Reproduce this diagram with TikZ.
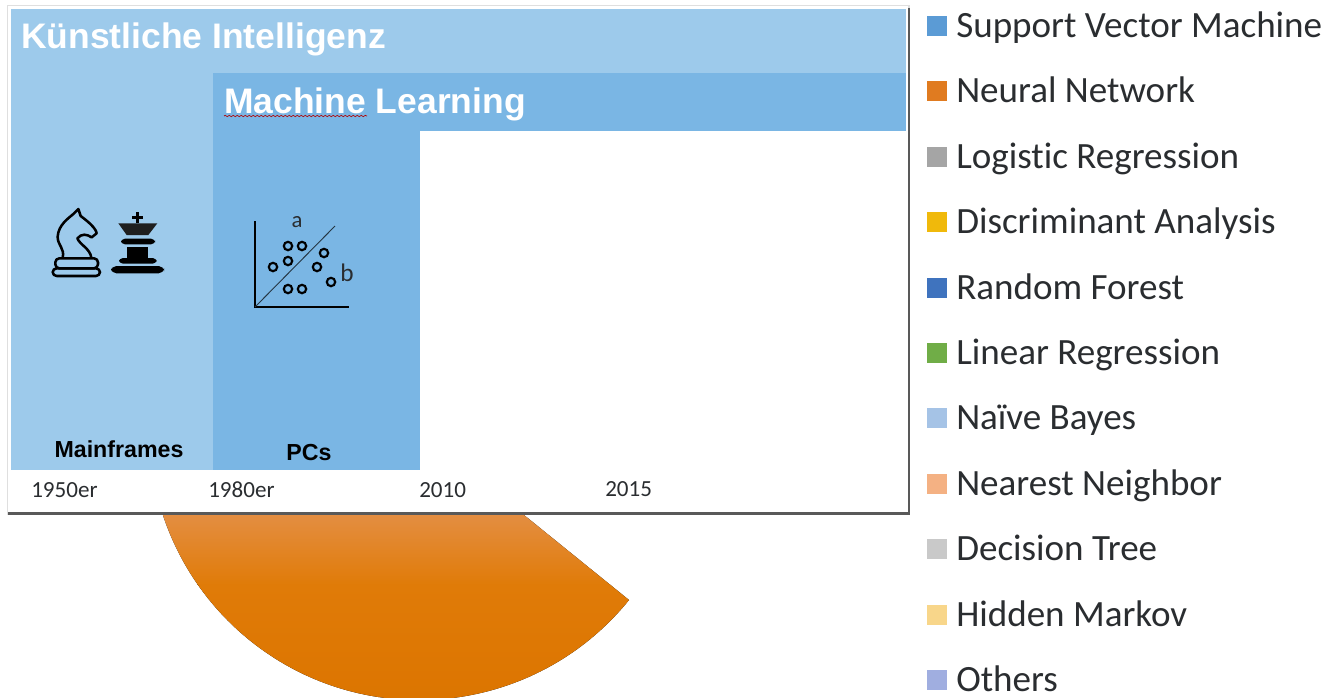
\documentclass[tikz,border=0pt]{standalone}
\usepackage{fontspec}
\setmainfont{Liberation Sans}
\newfontfamily\calfont[Ligatures=NoCommon]{Carlito}
\usetikzlibrary{decorations.pathmorphing}
\definecolor{lightblue}{HTML}{9DCAEB}
\definecolor{midblue}{HTML}{7AB6E4}
\definecolor{legendtext}{HTML}{2A2D30}
\definecolor{pietop}{HTML}{E48F45}
\definecolor{piemid}{HTML}{E07B08}
\definecolor{piebottom}{HTML}{DC7500}
\tikzset{
  x=0.75pt,y=-0.75pt,
  headline/.style={font=\bfseries\fontsize{26.6}{26}\selectfont,text=white,anchor=base west,inner sep=0pt},
  era/.style={font=\bfseries\fontsize{17.4}{17}\selectfont,text=black,anchor=base,inner sep=0pt},
  yearlabel/.style={font=\calfont\fontsize{17.3}{17}\selectfont,text=legendtext,anchor=base west,inner sep=0pt},
  legendlabel/.style={font=\calfont\fontsize{27.8}{28}\selectfont,text=legendtext,anchor=base west,inner sep=0pt},
  legendkey/.style={minimum size=14.5pt,inner sep=0pt,anchor=center},
  iconline/.style={draw=black,line width=1.9pt,fill=none,line join=round},
  dot/.style={draw=black,line width=1.6pt,fill=none,circle,minimum size=6.3pt,inner sep=0pt}
}
\begin{document}
\begin{tikzpicture}
\useasboundingbox (0,0) rectangle (1326,697);
\fill[white] (0,0) rectangle (1326,697);
% pie sector: lower half in solid orange, upper part fading to the lighter tone
\begin{scope}
  \clip (419,430) -- (629,600) arc[start angle=39,end angle=161.6,radius=270] -- cycle;
  \fill[top color=pietop,bottom color=piemid] (100,510) rectangle (700,585);
  \fill[top color=piemid,bottom color=piebottom] (100,584) rectangle (700,700);
\end{scope}
% chart panel
\fill[gray!25] (7,5) rectangle (910,515);
\fill[black!65] (8,512) rectangle (910,515);
\fill[black!65] (908,8) rectangle (910,515);
\fill[white] (8,6) rectangle (908,512);
\fill[lightblue] (11,9) rectangle (906,470);
\fill[midblue] (213,73) rectangle (906,470);
\fill[white] (420,131) rectangle (906,470);
% headings
\node[headline] (ki) at (21,48) {Künstliche Intelligenz};
\node[headline] (ml) at (224,113) {Machine Learning};
\draw[red!70!black,line width=0.5pt,decorate,decoration={snake,amplitude=0.5pt,segment length=3pt}] (224,116) -- (367,116);
% eras
\node[era] (mf) at (119,457) {Mainframes};
\node[era] (pc) at (309,460) {PCs};
\node[yearlabel] (y1) at (31,497) {1950er};
\node[yearlabel] (y2) at (208,497) {1980er};
\node[yearlabel] (y3) at (419,497) {2010};
\node[yearlabel] (y4) at (605,496) {2015};
% chess icons
\begin{scope}[shift={(20,190)},x=0.25pt,y=-0.25pt]
  \draw[iconline,rounded corners=3pt] (98,235) rectangle (240,258);
  \draw[iconline,rounded corners=3pt] (106,205) rectangle (234,235);
  \draw[iconline] (128,203) .. controls (135,175) and (112,165) .. (113,140)
     .. controls (115,105) and (145,85) .. (160,72) -- (175,57) -- (182,78)
     .. controls (205,95) and (228,115) .. (230,130) -- (215,142)
     .. controls (200,132) and (185,130) .. (172,145)
     .. controls (180,165) and (210,175) .. (214,203);
  \fill[black] (347,66) rectangle (357,100);
  \fill[black] (337,78) rectangle (368,86);
  \fill[black!88] (295,100) -- (412,100) -- (385,135) -- (320,135) -- cycle;
  \fill[black,rounded corners=3pt] (303,146) rectangle (405,163);
  \fill[black] (322,172) rectangle (385,210);
  \fill[black,rounded corners=3pt] (297,204) rectangle (410,221);
  \fill[black,rounded corners=4pt] (273,228) rectangle (432,250);
\end{scope}
% scatter icon
\coordinate (ax0) at (255,307);
\coordinate (axy) at (255,221);
\coordinate (axx) at (349,307);
\coordinate (dg) at (335,226);
\draw[black,line width=1.7pt] (axy) -- (ax0) -- (axx);
\draw[black!70!midblue,line width=0.7pt] (ax0) -- (dg);
\foreach \n/\px/\py in {a/288/246,b/302/246,c/324/253,d/288/261,e/273/267,f/317/267,g/331/282,h/288/289,i/302/289}
  \node[dot] (p\n) at (\px,\py) {};
\node[font=\calfont\fontsize{17}{17}\selectfont,text=legendtext,inner sep=0pt] (la) at (297,222) {a};
\node[font=\calfont\fontsize{19}{19}\selectfont,text=legendtext,inner sep=0pt] (lb) at (347,273) {b};
% legend
\foreach \k/\yy/\col/\txt in {
 a/26/5B9BD5/Support Vector Machine,
 b/91/E07B20/Neural Network,
 c/157/A5A5A5/Logistic Regression,
 d/222/F0B90B/Discriminant Analysis,
 e/288/3F73BE/Random Forest,
 f/353/70AD47/Linear Regression,
 g/418/A5C3E6/Naïve Bayes,
 h/484/F4B183/Nearest Neighbor,
 i/549/C9C9C9/Decision Tree,
 j/615/F8D68A/Hidden Markov,
 k/680/A0AEE0/Others}{
  \definecolor{keycol}{HTML}{\col}
  \node[legendkey,fill=keycol] (key\k) at (937,\yy) {};
  \node[legendlabel] (lab\k) at (956,\yy+11) {\txt};
}
\end{tikzpicture}
\end{document}
